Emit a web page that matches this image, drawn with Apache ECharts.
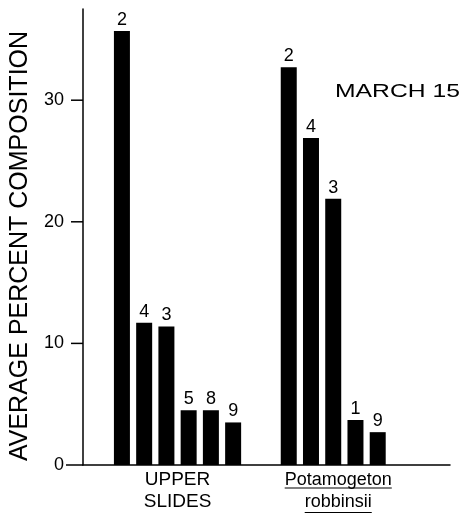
<!DOCTYPE html>
<html>
<head>
<meta charset="utf-8">
<script src="https://cdn.jsdelivr.net/npm/echarts@6/dist/echarts.min.js"></script>
<style>
html,body{margin:0;padding:0;background:#fff;}
#chart{width:465px;height:516px;}
</style>
</head>
<body>
<div id="chart"></div>
<script>
// ---- data ----
const upperRanks = ['2', '4', '3', '5', '8', '9'];
const upperValues = [35.7, 11.7, 11.4, 4.5, 4.5, 3.5];
const potaRanks = ['2', '4', '3', '1', '9'];
const potaValues = [32.7, 26.9, 21.9, 3.7, 2.7];
const groupLabels = ['UPPER\nSLIDES', 'Potamogeton\nrobbinsii'];
const yTickValues = [0, 10, 20, 30];
const yTitle = 'AVERAGE PERCENT COMPOSITION';
const dateLabel = 'MARCH 15';

// ---- layout of category slots ----
const SLOTS = 33;
const G1_START = 3, G2_START = 18, STEP = 2;
const G1_LABEL_IDX = 8, G2_LABEL_IDX = 22;
const Y_MAX = 37.5, Y_STEP = 10;

const categories = new Array(SLOTS).fill('');
categories[G1_LABEL_IDX] = groupLabels[0];
categories[G2_LABEL_IDX] = groupLabels[1];

const seriesData = new Array(SLOTS).fill('-');
upperValues.forEach((v, i) => { seriesData[G1_START + i * STEP] = { value: v, rank: upperRanks[i] }; });
potaValues.forEach((v, i) => { seriesData[G2_START + i * STEP] = { value: v, rank: potaRanks[i] }; });

const FONT = 'Liberation Sans, Arial, sans-serif';
const chart = echarts.init(document.getElementById('chart'), null, { renderer: 'canvas' });

chart.setOption({
  backgroundColor: '#fff',
  animation: false,
  grid: { left: 83, top: 9, width: 367, bottom: 51 },
  xAxis: {
    type: 'category',
    data: categories,
    boundaryGap: true,
    axisLine: { show: true, lineStyle: { color: '#000', width: 1.5 } },
    axisTick: { show: false },
    axisLabel: {
      interval: 0,
      margin: 4,
      color: '#000',
      fontFamily: FONT,
      fontSize: 19,
      lineHeight: 22,
      formatter: function (v, i) {
        if (i === G1_LABEL_IDX) return v.split('\n').map(s => '{u|' + s + '}').join('\n');
        if (i === G2_LABEL_IDX) return v.split('\n').map(s => '{p|' + s + '}').join('\n');
        return '';
      },
      rich: {
        u: { fontFamily: FONT, fontSize: 19, lineHeight: 22, color: '#000' },
        p: { fontFamily: FONT, fontSize: 18, lineHeight: 22, color: '#000', padding: [0, 0, 0, 10] }
      }
    },
    splitLine: { show: false }
  },
  yAxis: {
    type: 'value',
    min: 0,
    max: Y_MAX,
    interval: Y_STEP,
    name: yTitle,
    nameLocation: 'middle',
    nameGap: 41,
    nameRotate: 90,
    nameTextStyle: { fontFamily: FONT, fontSize: 25, color: '#000', padding: [0, 18, 0, 0] },
    axisLine: { show: true, onZero: false, lineStyle: { color: '#000', width: 1.5 } },
    axisTick: { show: false },
    axisLabel: {
      margin: 19, color: '#000', fontFamily: FONT, fontSize: 18, showMaxLabel: false,
      formatter: v => (yTickValues.indexOf(v) >= 0 ? String(v) : '')
    },
    splitLine: { show: false }
  },
  series: [{
    type: 'bar',
    data: seriesData,
    barWidth: 16,
    itemStyle: { color: '#000' },
    label: {
      show: true,
      position: 'top',
      distance: 2,
      color: '#000',
      fontFamily: FONT,
      fontSize: 18,
      formatter: p => p.data.rank
    }
  }, {
    // outward y-axis tick marks, positioned by the value scale
    type: 'custom',
    silent: true,
    clip: false,
    data: yTickValues.map(v => [0, v]),
    renderItem: function (params, api) {
      const v = api.value(1);
      const y = api.coord([0, v])[1];
      const x0 = params.coordSys.x;
      const len = v === 0 ? 17 : 12;
      return {
        type: 'line',
        shape: { x1: x0 - len, y1: y, x2: x0, y2: y },
        style: { stroke: '#000', lineWidth: 1.5 }
      };
    }
  }]
});

// Underlines for the species name, and the date label
const cvs = document.createElement('canvas').getContext('2d');
cvs.font = '18px ' + FONT;
const potaLines = groupLabels[1].split('\n');
const cx = chart.convertToPixel({ xAxisIndex: 0 }, G2_LABEL_IDX) + 5;
const y0 = chart.convertToPixel({ yAxisIndex: 0 }, 0);
const w1 = cvs.measureText(potaLines[0]).width;
const w2 = cvs.measureText(potaLines[1]).width;

chart.setOption({
  graphic: [
    { type: 'line', shape: { x1: cx - w1 / 2, y1: y0 + 23, x2: cx + w1 / 2, y2: y0 + 23 }, style: { stroke: '#000', lineWidth: 1.2 } },
    { type: 'line', shape: { x1: cx - w2 / 2, y1: y0 + 47.5, x2: cx + w2 / 2, y2: y0 + 47.5 }, style: { stroke: '#000', lineWidth: 1.2 } },
    { type: 'text', left: 335, top: 82, scaleX: 1.3, originX: 0,
      style: { text: dateLabel, fill: '#000', font: '19px ' + FONT } }
  ]
});
</script>
</body>
</html>
